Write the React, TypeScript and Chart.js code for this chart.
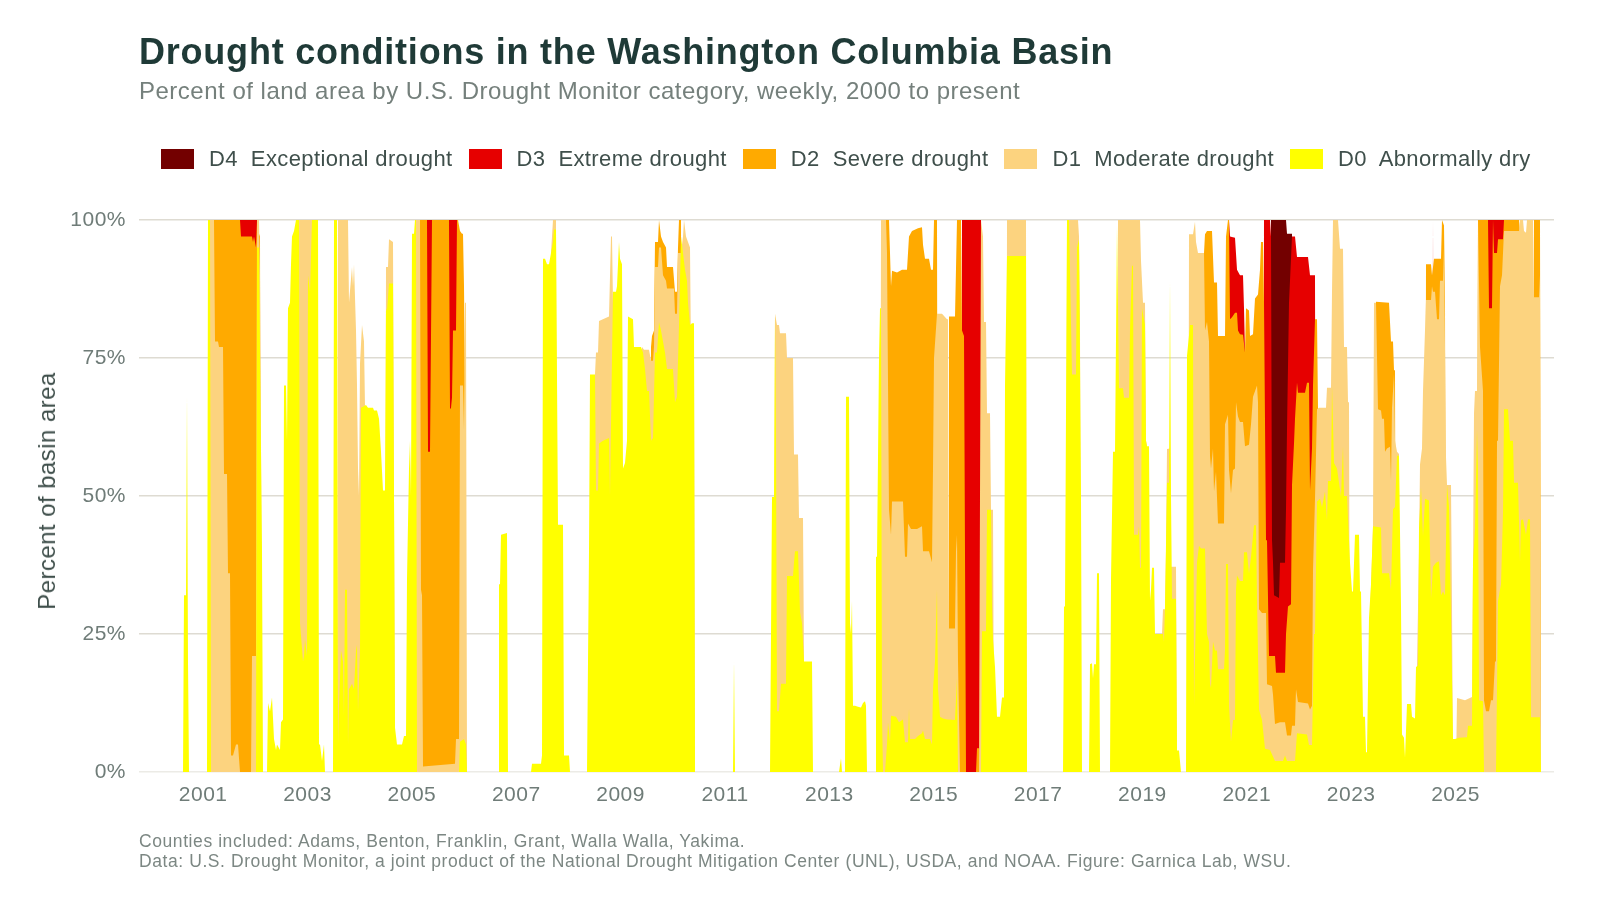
import { useEffect, useRef } from 'react'
import { Chart, registerables } from 'chart.js'

Chart.register(...registerables)

// x = weeks since 2000-01-04, y = top edge of the band in percent of basin area
const d0Tops = [
  [32, 0], [33, 32], [35, 32], [36, 68], [37, 20], [38, 0], [56, 0], [57, 100], [59, 100], [60, 0],
  [105, 0], [106, 95], [108, 95], [111, 40], [112, 0], [116, 0], [117, 12.5], [119, 11], [121, 13.5], [123, 6],
  [125, 4], [126, 5], [129, 4], [130, 9], [132, 9.5], [133, 70], [135, 70], [136, 60], [137, 84], [139, 85],
  [140, 92], [141, 97], [143, 98], [145, 100], [148, 100], [149, 27], [152, 20], [153, 21], [154, 24], [156, 21],
  [157, 90], [159, 87], [161, 100], [167, 100], [168, 5], [169, 5], [171, 2], [173, 5], [174, 0],
  [182, 0], [183, 100], [186, 100], [187, 5], [188, 12], [190, 22], [192, 20], [193, 10], [194, 33], [196, 33],
  [197, 5], [198, 15], [201, 16], [203, 15], [205, 22], [206, 23], [207, 11], [209, 22], [210, 66], [215, 66.5],
  [217, 66], [222, 66], [223, 65.5], [226, 65.5], [228, 64], [230, 58], [232, 51], [234, 51], [235, 84], [236, 83.5],
  [238, 88.5], [242, 88.5], [243, 50], [244, 8], [246, 5], [251, 5], [253, 6.5], [255, 6.5], [256, 35], [258, 55],
  [259, 60], [260, 50], [261, 97.5], [263, 97.5], [264, 100], [265, 100], [266, 0],
  [308, 0], [309, 5.5], [313, 6], [315, 5], [316, 0], [347, 0], [348, 34], [349, 34], [350, 43], [356, 43.3], [357, 0],
  [380, 0], [381, 1.5], [390, 1.5], [391, 3], [392, 93], [394, 93], [396, 92], [398, 92], [400, 94], [402, 96],
  [403, 98.3], [405, 98.3], [407, 44.8], [412, 44.8], [413, 3], [418, 3], [419, 0],
  [436, 0], [437, 20], [438, 40], [439, 72], [444, 72], [445, 51], [447, 51], [448, 59.5], [452, 60], [458, 60.5],
  [459, 50], [460, 63], [462, 87], [465, 87], [466, 88], [468, 96], [469, 93], [471, 92], [472, 55], [474, 56],
  [476, 60], [477, 82.5], [482, 82], [483, 77], [490, 77], [492, 76], [494, 73], [496, 69], [498, 69], [500, 60],
  [502, 60.5], [504, 76], [506, 76], [508, 81.5], [510, 80], [512, 78], [514, 76], [516, 73], [522, 73], [524, 67],
  [526, 68], [528, 81], [530, 97], [532, 94], [534, 91], [536, 89], [537, 85], [539, 81], [541, 81.3], [543, 81.3], [544, 0],
  [582, 0], [583, 20], [584, 0],
  [619, 0], [621, 49.8], [623, 49.8], [624, 83], [625, 60], [626, 11], [628, 11], [630, 16], [635, 16], [636, 35.5],
  [642, 35.5], [643, 38], [644, 40], [647, 40], [649, 29], [651, 27], [653, 20], [661, 20], [662, 0],
  [688, 0], [690, 2.5], [691, 0], [694, 0], [695, 68], [698, 68], [699, 27], [700, 25], [701, 31], [702, 12],
  [704, 12], [707, 11.8], [710, 11.7], [712, 12.5], [714, 12.8], [715, 12], [716, 0],
  [724, 0], [725, 39], [726, 39], [728, 75], [729, 84], [730, 84], [731, 10], [732, 0], [734, 0], [736, 5],
  [737, 9], [739, 5.5], [740, 10.2], [745, 10], [748, 9], [752, 9.5], [754, 5.4], [757, 5.4], [758, 11.5], [759, 6],
  [764, 6], [767, 6.5], [771, 7], [772, 7.5], [774, 6], [779, 6], [781, 5], [782, 15], [784, 20], [786, 33],
  [787, 15], [789, 10], [792, 9.7], [796, 9.5], [804, 9.4], [806, 17], [807, 0],
  [830, 0], [831, 25.5], [835, 25.5], [836, 47.5], [840, 47.5], [841, 30], [842, 24], [844, 19], [846, 10], [849, 10],
  [851, 13.5], [853, 13.5], [854, 70], [856, 93.5], [875, 93.5], [876, 0],
  [912, 0], [913, 30], [914, 30], [916, 100], [918, 100], [921, 72], [925, 72], [926, 95], [928, 96.5], [929, 75],
  [930, 50], [931, 0], [938, 0], [939, 19.5], [941, 19.7], [942, 17], [943, 19.5], [945, 19.5], [946, 36], [948, 36], [949, 0],
  [959, 0], [960, 35], [962, 58], [964, 58], [966, 99], [968, 69.5], [972, 69.5], [973, 67.8], [978, 67.8], [979, 80],
  [981, 91.7], [982, 91.7], [983, 43], [987, 43], [988, 44.5], [989, 37], [990, 37], [991, 84], [994, 81], [995, 60],
  [996, 59], [998, 59], [999, 31], [1000, 33], [1001, 37], [1003, 37], [1004, 25], [1012, 25], [1013, 23.6], [1014, 30],
  [1016, 52.4], [1018, 52.4], [1019, 89], [1020, 50], [1021, 31.4], [1025, 31.4], [1026, 3.9], [1028, 3.9], [1030, 0],
  [1035, 0], [1036, 75.4], [1039, 81], [1042, 81], [1043, 12], [1046, 38], [1048, 41], [1050, 40.5], [1054, 40.5], [1056, 25],
  [1058, 23.6], [1059, 16], [1060, 15.2], [1062, 23.6], [1064, 22], [1066, 22], [1067, 18.6], [1073, 18.6], [1074, 22], [1075, 37.7],
  [1077, 37.7], [1078, 12], [1080, 5.5], [1082, 9.4], [1084, 9.4], [1085, 33], [1086, 35.6], [1089, 34.6], [1092, 34.6], [1093, 39.8],
  [1096, 39.8], [1098, 35.9], [1100, 39], [1103, 44.7], [1105, 44.7], [1106, 31.4], [1108, 11.3], [1111, 9.4], [1114, 4.2], [1119, 4],
  [1124, 2], [1132, 2], [1134, 3], [1136, 2], [1144, 2], [1146, 7], [1156, 6.8], [1158, 4.9], [1161, 4.9], [1163, 25],
  [1164, 25], [1166, 49], [1169, 49.5], [1171, 48], [1174, 50.8], [1176, 45.6], [1177, 52.7], [1180, 52.7], [1181, 70], [1183, 56],
  [1186, 55], [1190, 49.8], [1192, 59], [1193, 50], [1196, 50], [1198, 42], [1199, 37.9], [1201, 32.7], [1202, 32.7], [1204, 43],
  [1208, 43], [1209, 32.7], [1210, 32.7], [1212, 10], [1214, 10], [1215, 3.6], [1216, 3.6], [1218, 28], [1220, 34], [1222, 44.5],
  [1230, 44.3], [1231, 36], [1238, 36], [1240, 33], [1242, 47.6], [1244, 48], [1246, 57.3], [1248, 57.3], [1250, 30], [1251, 6.8],
  [1253, 6.2], [1254, 2.6], [1256, 12.3], [1260, 12.3], [1261, 10], [1264, 9.7], [1265, 19], [1267, 19.3], [1268, 44.3], [1270, 51.5],
  [1272, 42.7], [1274, 49.5], [1278, 49.2], [1280, 31.4], [1282, 37.2], [1285, 37.9], [1288, 38.2], [1290, 32], [1292, 32.7], [1294, 32],
  [1296, 52], [1298, 48], [1300, 28], [1302, 6], [1304, 6], [1308, 6.2], [1316, 6.3], [1317, 8.4], [1321, 8.4], [1322, 38],
  [1324, 44], [1326, 62], [1327, 55], [1328, 13], [1332, 12.8], [1333, 0], [1345, 0], [1347, 31], [1350, 34], [1352, 47],
  [1353, 65.7], [1357, 65.7], [1359, 60], [1362, 60], [1363, 52.4], [1367, 52.4], [1369, 38], [1370, 45.6], [1372, 45.8], [1375, 43],
  [1377, 45.8], [1379, 45.8], [1380, 9.9], [1389, 9.9], [1390, 0],
]

const d1Tops = [
  [58, 0], [59, 100], [63, 100], [64, 78], [67, 78], [68, 77], [72, 77], [73, 54], [76, 54], [77, 36],
  [79, 36], [80, 3], [82, 3], [85, 5], [87, 5], [89, 0], [100, 0], [101, 21], [105, 21], [106, 100],
  [108, 100], [109, 90], [110, 60], [111, 0], [144, 0], [145, 100], [161, 100], [162, 0],
  [186, 0], [187, 100], [197, 100], [198, 85], [201, 91.5], [202, 88], [203, 92], [205, 80], [206, 70], [207, 55],
  [208, 50], [209, 74], [211, 81], [213, 78], [214, 66], [215, 0], [234, 0], [235, 91.5], [237, 91.5], [238, 96.5],
  [242, 96], [243, 50], [244, 0], [264, 0], [265, 100], [269, 100], [270, 33], [271, 32], [272, 1], [304, 1.5],
  [305, 6], [308, 6], [309, 70], [312, 70], [313, 62], [314, 85], [315, 85], [316, 0],
  [399, 0], [400, 94], [402, 100], [405, 100], [406, 0], [443, 0], [444, 72], [445, 76], [447, 76], [448, 81.7],
  [458, 82.5], [460, 97], [461, 97], [462, 85], [463, 0], [490, 0], [491, 77], [493, 76.5], [498, 76.5], [500, 74.5],
  [502, 74.5], [503, 77], [504, 91.5], [507, 91.5], [508, 95], [510, 95], [512, 90], [515, 89], [516, 87.6], [523, 87.6],
  [524, 83], [526, 83], [527, 94], [530, 94], [532, 97], [533, 100], [535, 97], [537, 96], [539, 95], [540, 75],
  [543, 75], [544, 0], [623, 0], [624, 83], [626, 81], [628, 81], [629, 79.5], [635, 79.5], [636, 75], [642, 75],
  [643, 57.5], [647, 57.5], [648, 46], [652, 46], [653, 20], [654, 0],
  [729, 0], [730, 100], [735, 100], [736, 94], [738, 47.5], [739, 47.5], [740, 43], [741, 49], [752, 49], [754, 39],
  [756, 39], [757, 45], [760, 44], [766, 44], [771, 44.5], [772, 40], [778, 40], [781, 38], [782, 55], [783, 75],
  [786, 83], [791, 83], [796, 82], [797, 82], [798, 26], [804, 26], [805, 40], [806, 43], [807, 20], [809, 0],
  [828, 0], [830, 100], [832, 97], [833, 81.5], [835, 81.5], [836, 65], [839, 65], [840, 47.5], [842, 47.5], [843, 0],
  [855, 0], [856, 100], [875, 100], [876, 0], [915, 0], [916, 100], [927, 100], [928, 97], [929, 80], [930, 0],
  [966, 0], [967, 100], [989, 100], [990, 92.6], [992, 85], [994, 85], [995, 60], [996, 59], [997, 0],
  [1010, 0], [1011, 25], [1012, 29.5], [1014, 29.5], [1015, 40], [1016, 58.5], [1019, 58.6], [1020, 37.2], [1025, 37.2], [1026, 0],
  [1037, 0], [1038, 97.4], [1042, 97.4], [1044, 99.7], [1045, 96], [1047, 94], [1053, 94], [1054, 80], [1056, 81.5], [1058, 78],
  [1059, 57.3], [1060, 55], [1062, 58.6], [1063, 50.8], [1065, 54.4], [1067, 45], [1073, 45], [1074, 63], [1077, 64.7], [1078, 54.7],
  [1080, 50.5], [1082, 54.7], [1084, 55], [1085, 67], [1087, 64.4], [1089, 63.4], [1092, 63.4], [1094, 59], [1098, 59.3], [1100, 63],
  [1102, 68], [1106, 70], [1107, 67], [1108, 29.5], [1111, 28.8], [1115, 28.8], [1116, 15.9], [1121, 15.6], [1122, 14], [1124, 8.7],
  [1129, 9], [1134, 9], [1136, 6.6], [1140, 6.6], [1141, 8.4], [1144, 8.4], [1145, 15], [1147, 12.7], [1157, 12.4], [1159, 11.3],
  [1161, 12], [1162, 36.6], [1164, 49.5], [1166, 65.7], [1168, 66], [1175, 66], [1176, 69.6], [1180, 69.6], [1181, 87], [1182, 100],
  [1187, 100], [1189, 94.8], [1192, 94.8], [1193, 77], [1196, 77], [1197, 67], [1198, 67], [1199, 0],
  [1218, 0], [1219, 28], [1222, 44.5], [1223, 85], [1225, 85], [1227, 65.7], [1230, 65.5], [1231, 64], [1233, 64], [1234, 58],
  [1236, 58.6], [1239, 58.9], [1240, 52.7], [1241, 66], [1243, 72], [1244, 60], [1246, 58], [1248, 57.6], [1249, 0],
  [1265, 0], [1266, 19.5], [1268, 40], [1269, 55.7], [1271, 58.6], [1272, 69], [1275, 85.5], [1280, 85.5], [1281, 88], [1282, 87],
  [1284, 87], [1286, 82], [1288, 82], [1289, 89], [1292, 89], [1293, 95], [1294, 77], [1295, 57], [1296, 52], [1300, 52],
  [1301, 30], [1302, 0], [1305, 0], [1306, 13.4], [1314, 13], [1321, 13.6], [1322, 38], [1323, 65], [1324, 69], [1326, 69],
  [1327, 100], [1329, 77], [1332, 69], [1333, 13], [1335, 11], [1338, 11], [1340, 13], [1342, 13], [1344, 20], [1345, 20],
  [1346, 60], [1347, 60], [1349, 88], [1351, 90], [1353, 98], [1368, 98], [1369, 100], [1372, 100], [1373, 98], [1375, 97.7],
  [1376, 100], [1382, 100], [1383, 86], [1388, 86], [1389, 90], [1390, 0],
]

const d2Tops = [
  [62, 0], [63, 100], [89, 100], [90, 97], [101, 97], [102, 96], [103, 97], [105, 95], [106, 100], [107, 98],
  [109, 97], [110, 0], [268, 0], [269, 100], [276, 100], [277, 58], [279, 58], [281, 100], [298, 100], [299, 65.7],
  [300, 66], [301, 67.8], [302, 80], [305, 80], [306, 100], [307, 100], [309, 98], [311, 97.5], [312, 97.5], [313, 88],
  [314, 70], [315, 0], [499, 0], [500, 77], [501, 79], [503, 80], [504, 96], [507, 96], [508, 100], [510, 97],
  [512, 96], [515, 95], [516, 91.5], [522, 91.5], [524, 87], [526, 87], [527, 95], [528, 100], [530, 100], [531, 0],
  [733, 0], [734, 100], [738, 100], [739, 94], [740, 88], [741, 90.8], [746, 90.5], [751, 91], [756, 91], [758, 97],
  [761, 98], [767, 98.5], [771, 98.7], [772, 95.5], [774, 93], [778, 93], [780, 91], [782, 91], [783, 100], [786, 100],
  [787, 0], [797, 0], [798, 82.5], [804, 82.5], [806, 100], [810, 100], [811, 80], [813, 79], [815, 0], [825, 0],
  [826, 4.3], [828, 4.3], [829, 0], [1052, 0], [1053, 94], [1054, 97.4], [1056, 98], [1061, 98], [1063, 88.7], [1066, 88.7],
  [1067, 79], [1074, 79], [1075, 97], [1077, 100], [1078, 100], [1079, 82], [1081, 82.4], [1084, 83.2], [1086, 83.2], [1087, 80],
  [1089, 79.3], [1092, 79.2], [1094, 76], [1095, 84], [1098, 83.6], [1099, 79], [1102, 79.3], [1104, 85.8], [1107, 86.5], [1109, 91],
  [1110, 96], [1112, 96], [1113, 85], [1115, 42], [1116, 42], [1118, 21], [1124, 21], [1125, 18], [1134, 18], [1135, 25],
  [1137, 30], [1140, 30.4], [1141, 52], [1142, 55.7], [1143, 59.5], [1144, 64], [1146, 70.5], [1147, 68.7], [1154, 68.7], [1156, 70.5],
  [1158, 70.5], [1159, 51], [1161, 58.6], [1162, 70], [1164, 82], [1166, 82], [1167, 66], [1168, 0],
  [1224, 0], [1225, 85.2], [1238, 85], [1240, 78], [1242, 78], [1243, 72.8], [1244, 72.8], [1245, 0],
  [1274, 0], [1275, 92], [1280, 92], [1281, 90], [1283, 93], [1290, 93], [1291, 100], [1293, 99], [1294, 85], [1295, 0],
  [1326, 0], [1327, 100], [1337, 100], [1338, 84], [1341, 84], [1342, 100], [1343, 94], [1346, 94], [1347, 96.5], [1352, 96.5],
  [1353, 100], [1368, 100], [1369, 98], [1370, 0], [1382, 0], [1383, 100], [1389, 100], [1390, 0],
]

const d3Tops = [
  [88, 0], [89, 100], [106, 100], [107, 0], [275, 0], [276, 100], [281, 100], [282, 0], [297, 0], [298, 100],
  [306, 100], [307, 0], [810, 0], [811, 100], [830, 100], [831, 0], [1077, 0], [1078, 100], [1079, 97], [1084, 96.8],
  [1086, 91], [1089, 90], [1092, 90], [1093, 84], [1094, 76], [1095, 0], [1112, 0], [1113, 100], [1119, 100], [1120, 97],
  [1121, 42], [1122, 38], [1123, 32], [1128, 31.5], [1129, 37.9], [1134, 37.9], [1135, 47.6], [1136, 62], [1138, 85], [1141, 97],
  [1144, 97], [1146, 93.3], [1157, 93.3], [1159, 90], [1164, 90], [1165, 0], [1281, 0], [1282, 100], [1283, 0],
  [1336, 0], [1337, 100], [1353, 100], [1354, 0],
]

const d4Tops = [[1119, 0], [1120, 100], [1135, 100], [1136, 97.5], [1141, 97.5], [1142, 0]]

const tickYears = [2001, 2003, 2005, 2007, 2009, 2011, 2013, 2015, 2017, 2019, 2021, 2023, 2025]
const yTicks = [0, 25, 50, 75, 100]

const bandNames = ['D4  Exceptional drought', 'D3  Extreme drought', 'D2  Severe drought', 'D1  Moderate drought', 'D0  Abnormally dry']
const bandColors = ['#730000', '#e60000', '#ffaa00', '#fcd37f', '#ffff00']

const FONT = '"Liberation Sans", Arial, sans-serif'
const WEEKS_PER_YEAR = 52.18

const toXY = (rows: number[][]) => rows.map(([x, y]) => ({ x, y }))

// reference text is slightly tracked, the tick labels too
const trackedTicks = {
  id: 'trackedTicks',
  beforeDraw: (chart: Chart) => {
    ;(chart.ctx as any).letterSpacing = '0.5px'
  },
}

export default function App() {
  const canvasRef = useRef<HTMLCanvasElement>(null)

  useEffect(() => {
    const canvas = canvasRef.current
    if (!canvas) return

    // Chart.js paints dataset 0 last, so D0 goes first to sit in front
    const bands = [d0Tops, d1Tops, d2Tops, d3Tops, d4Tops]
    const chart = new Chart(canvas, {
      type: 'line',
      data: {
        datasets: bands.map((rows, i) => ({
          label: bandNames[4 - i],
          data: toXY(rows),
          backgroundColor: bandColors[4 - i],
          borderWidth: 0,
          pointRadius: 0,
          tension: 0,
          fill: 'origin',
        })),
      },
      plugins: [trackedTicks],
      options: {
        animation: false,
        responsive: false,
        events: [],
        layout: { padding: { top: 220, right: 46 } },
        plugins: { legend: { display: false }, tooltip: { enabled: false } },
        scales: {
          x: {
            type: 'linear',
            min: -12,
            max: 1403,
            border: { display: false },
            grid: { display: false, drawTicks: false },
            afterFit: (scale) => {
              scale.height = 128
            },
            afterBuildTicks: (scale) => {
              scale.ticks = tickYears.map((year) => ({ value: (year - 2000) * WEEKS_PER_YEAR }))
            },
            ticks: {
              autoSkip: false,
              maxRotation: 0,
              padding: 11,
              color: '#6f7c78',
              font: { family: FONT, size: 21 },
              callback: (value) => String(Math.round(Number(value) / WEEKS_PER_YEAR) + 2000),
            },
          },
          y: {
            min: 0,
            max: 100,
            border: { display: false },
            grid: {
              color: (ctx) => (ctx.tick.value === 0 ? '#ecebe6' : '#dedbd2'),
              lineWidth: 1.5,
              drawTicks: false,
            },
            afterFit: (scale) => {
              scale.width = 139
            },
            afterBuildTicks: (scale) => {
              scale.ticks = yTicks.map((value) => ({ value }))
            },
            ticks: {
              padding: 13,
              color: '#6f7c78',
              font: { family: FONT, size: 21 },
              callback: (value) => `${value}%`,
            },
          },
        },
      },
    })

    return () => chart.destroy()
  }, [])

  return (
    <div style={{ position: 'absolute', left: 0, top: 0, width: 1600, height: 900, background: '#fff', fontFamily: FONT, overflow: 'hidden' }}>
      <canvas ref={canvasRef} width={1600} height={900} style={{ position: 'absolute', left: 0, top: 0 }} />
      <div style={{ position: 'absolute', left: 139, top: 31, fontSize: 36, fontWeight: 700, letterSpacing: 0.78, color: '#1f3a37', whiteSpace: 'nowrap' }}>
        Drought conditions in the Washington Columbia Basin
      </div>
      <div style={{ position: 'absolute', left: 139, top: 77, fontSize: 24, letterSpacing: 0.5, color: '#75807c', whiteSpace: 'nowrap' }}>
        Percent of land area by U.S. Drought Monitor category, weekly, 2000 to present
      </div>
      <div style={{ position: 'absolute', left: 161, top: 146, display: 'flex', gap: 16, alignItems: 'center', height: 26 }}>
        {bandNames.map((name, i) => (
          <div key={name} style={{ display: 'flex', alignItems: 'center', gap: 15 }}>
            <span style={{ width: 33, height: 20, background: bandColors[i] }} />
            <span style={{ fontSize: 22, letterSpacing: 0.38, color: '#3f4f4b', whiteSpace: 'pre' }}>{name}</span>
          </div>
        ))}
      </div>
      <div
        style={{
          position: 'absolute',
          left: 47,
          top: 491,
          fontSize: 24,
          letterSpacing: 0.45,
          color: '#3f4f4b',
          whiteSpace: 'nowrap',
          transform: 'translate(-50%, -50%) rotate(-90deg)',
        }}
      >
        Percent of basin area
      </div>
      <div style={{ position: 'absolute', left: 139, top: 831, fontSize: 17.5, letterSpacing: 0.58, lineHeight: '20px', color: '#7c8783', whiteSpace: 'nowrap' }}>
        Counties included: Adams, Benton, Franklin, Grant, Walla Walla, Yakima.
        <br />
        Data: U.S. Drought Monitor, a joint product of the National Drought Mitigation Center (UNL), USDA, and NOAA. Figure: Garnica Lab, WSU.
      </div>
    </div>
  )
}
